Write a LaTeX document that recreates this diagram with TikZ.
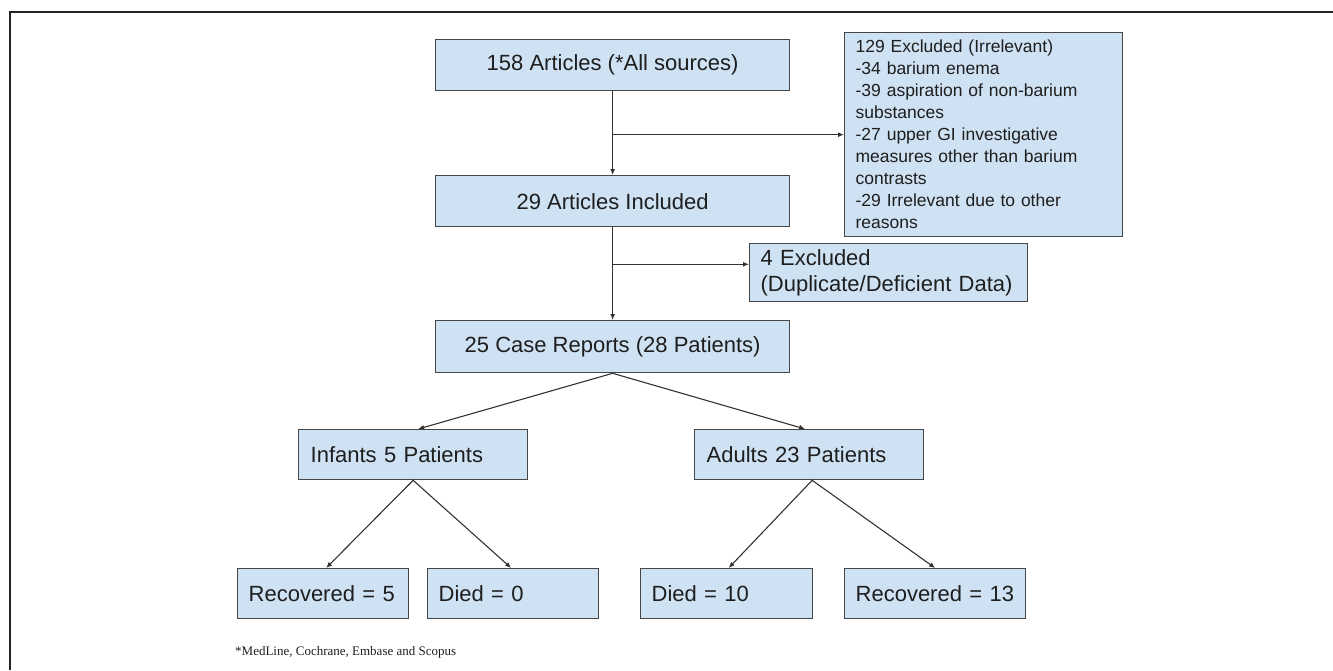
\documentclass[tikz,border=0pt]{standalone}
\usepackage{fontspec}
\setmainfont{Liberation Sans}
\newfontfamily\footfont{Liberation Serif}
\usetikzlibrary{arrows.meta,calc}
\definecolor{boxfill}{RGB}{207,226,243}
\definecolor{boxline}{RGB}{70,70,70}
\definecolor{arrowline}{RGB}{50,50,50}
\definecolor{frameline}{RGB}{35,35,35}
\definecolor{textcol}{RGB}{30,30,30}
\begin{document}
\begin{tikzpicture}[x=1pt,y=-1pt,
  flowbox/.style={draw=boxline,fill=boxfill,text=textcol,line width=1.3pt,rectangle,anchor=north west,inner sep=0pt,font=\fontsize{22}{26}\selectfont},
  centerbox/.style={flowbox,align=center},
  leftbox/.style={flowbox,align=left},
  conn/.style={draw=arrowline,line width=1.1pt,-{Latex[length=6pt,width=5pt]}},
  frame/.style={draw=frameline,line width=1.5pt}
]
\useasboundingbox (0,0) rectangle (1333,670);

% frame
\coordinate (fTL) at (10,12);
\coordinate (fTR) at (1333,12);
\coordinate (fBL) at (10,670);
\draw[frame] (fTR) -- (fTL) -- (fBL);

% boxes
\node[centerbox,minimum width=354pt,minimum height=51pt] (b1) at (435,39) {158 Articles (*All sources)};
\node[leftbox,minimum width=278pt,minimum height=204pt,text width=256pt,font=\fontsize{17.5}{22}\selectfont] (ex1) at (844,32)
 {129 Excluded (Irrelevant)\\-34 barium enema\\-39 aspiration of non-barium\\substances\\-27 upper GI investigative\\measures other than barium\\contrasts\\-29 Irrelevant due to other\\reasons};
\node[centerbox,minimum width=354pt,minimum height=51pt] (b2) at (435,175) {29 Articles Included};
\node[leftbox,minimum width=278pt,minimum height=58pt,text width=256pt] (ex2) at (749,243) {4 Excluded\\(Duplicate/Deficient Data)};
\node[centerbox,minimum width=354pt,minimum height=52pt] (b4) at (435,320) {25 Case Reports (28 Patients)};
\node[leftbox,minimum width=229pt,minimum height=50pt,text width=205pt] (inf) at (298,429) {Infants 5 Patients};
\node[leftbox,minimum width=229pt,minimum height=50pt,text width=205pt] (adu) at (694,429) {Adults 23 Patients};
\node[leftbox,minimum width=171pt,minimum height=50pt,text width=149pt] (r5) at (237,568) {Recovered = 5};
\node[leftbox,minimum width=171pt,minimum height=50pt,text width=149pt] (d0) at (427,568) {Died = 0};
\node[leftbox,minimum width=172pt,minimum height=50pt,text width=150pt] (d10) at (640,568) {Died = 10};
\node[leftbox,minimum width=181pt,minimum height=50pt,text width=159pt] (r13) at (844,568) {Recovered = 13};

\node[anchor=west,inner sep=0pt,text=textcol,font=\footfont\fontsize{13}{15}\selectfont] (note) at (235,652) {*MedLine, Cochrane, Embase and Scopus};

% connectors
\draw[conn] (b1.south) -- (b2.north);
\coordinate (j1) at (b1.south |- ex1.west);
\draw[conn] (j1) -- (ex1.west);
\draw[conn] (b2.south) -- (b4.north);
\coordinate (j2) at ($(b2.south)+(0,37)$);
\draw[conn] (j2) -- (j2 -| ex2.west);
\draw[conn] (b4.south) -- ($(inf.north)+(5,0)$);
\draw[conn] (b4.south) -- ($(adu.north)+(-4,0)$);
\draw[conn] (inf.south) -- ($(r5.north)+(3,0)$);
\draw[conn] (inf.south) -- ($(d0.north)+(-2,0)$);
\draw[conn] ($(adu.south)+(3,0)$) -- ($(d10.north)+(2,0)$);
\draw[conn] ($(adu.south)+(3,0)$) -- (r13.north);
\end{tikzpicture}
\end{document}
